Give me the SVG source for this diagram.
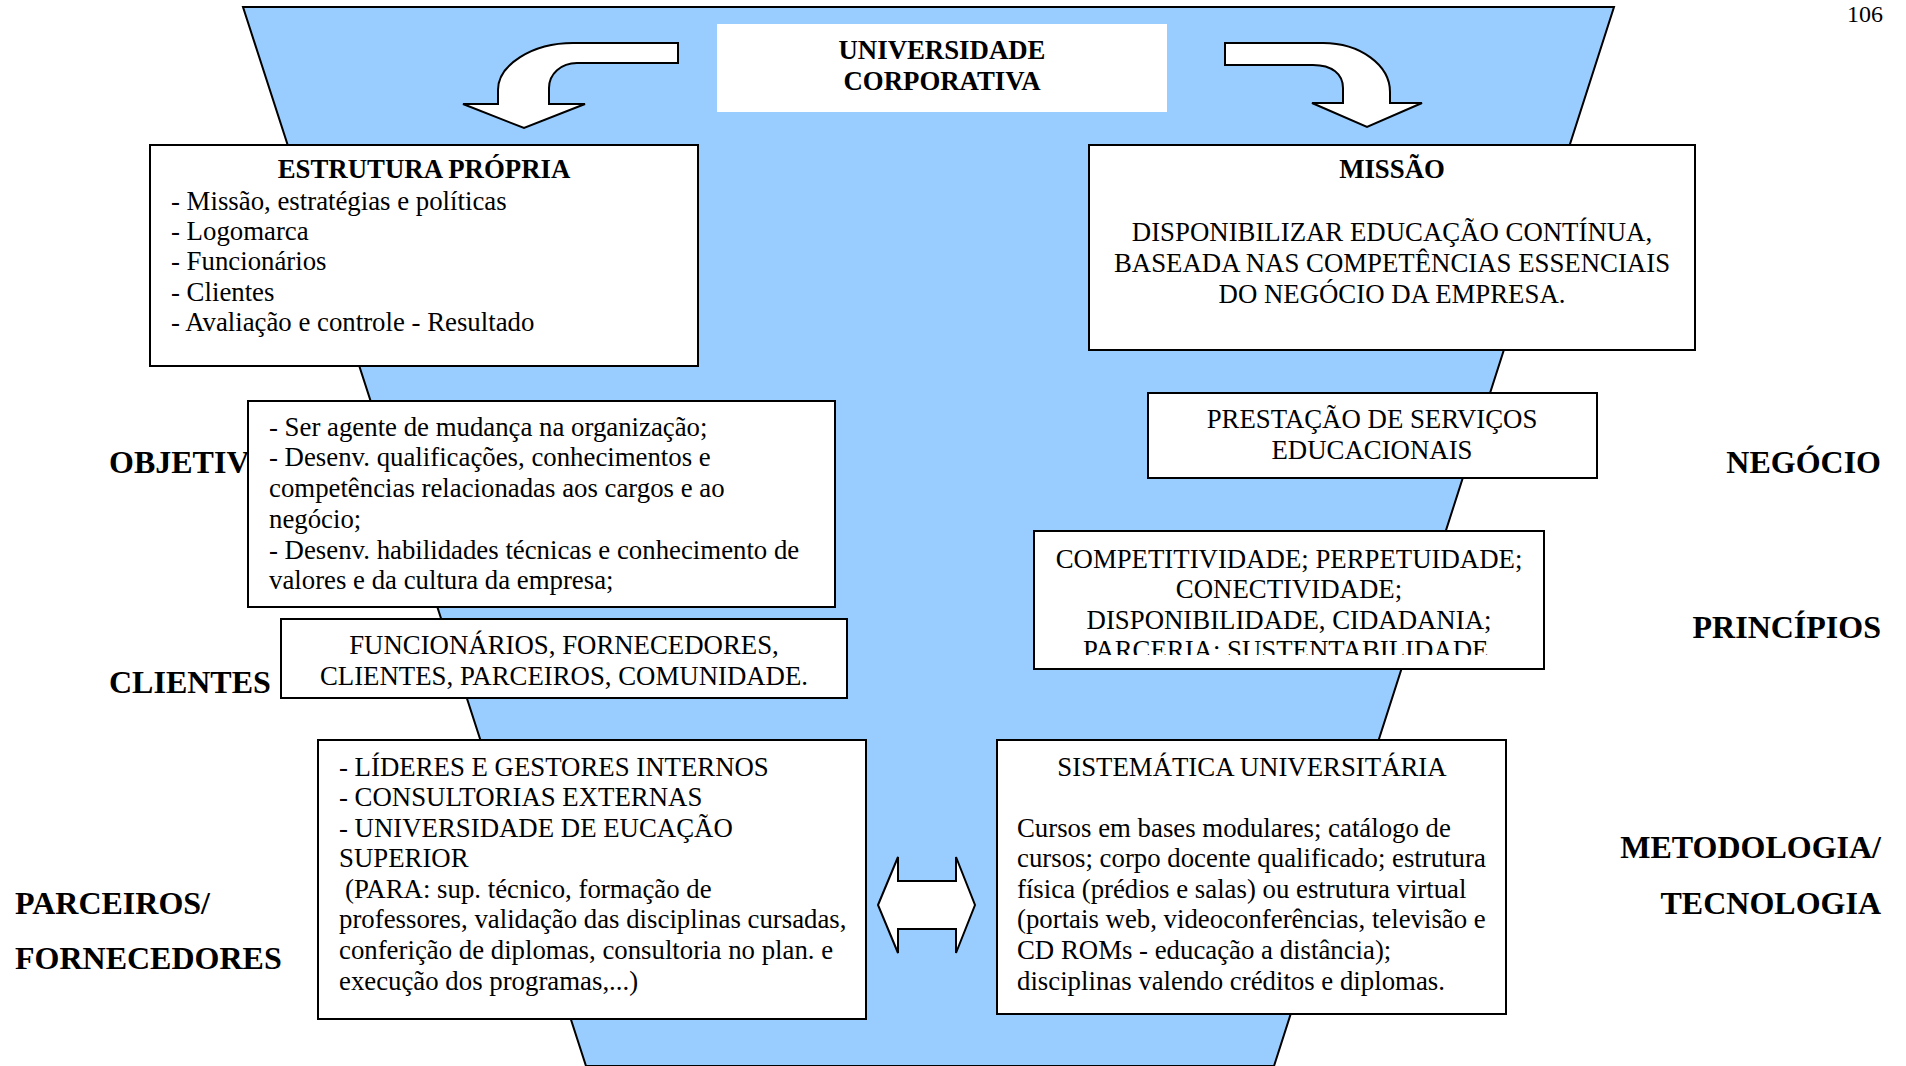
<svg xmlns="http://www.w3.org/2000/svg" width="1906" height="1066" viewBox="0 0 1906 1066">
<style>
.t{font-family:"Liberation Serif","Times New Roman",serif;font-size:26.8px;fill:#000}
.b{font-weight:bold}
.c{text-anchor:middle}
.lab{font-family:"Liberation Serif","Times New Roman",serif;font-size:32px;font-weight:bold;fill:#000}
.r{text-anchor:end}
.box{fill:#fff;stroke:#000;stroke-width:2}
.arr{fill:#fff;stroke:#000;stroke-width:2;stroke-linejoin:miter}
</style>
<defs>
<clipPath id="clipPrin"><rect x="1034" y="531" width="510" height="124"/></clipPath>
</defs>
<rect width="1906" height="1066" fill="#fff"/>
<polygon id="funnel" points="243,7 1614,7 1274,1066 586,1066" fill="#99CCFF" stroke="#000" stroke-width="2"/>
<text class="t r" x="1883" y="22" style="font-size:24px">106</text>

<g id="labels">
<text class="lab" x="109" y="473">OBJETIV</text>
<text class="lab" x="109" y="693">CLIENTES</text>
<text class="lab" x="15" y="914">PARCEIROS/</text>
<text class="lab" x="15" y="969">FORNECEDORES</text>
<text class="lab r" x="1881" y="473">NEGÓCIO</text>
<text class="lab r" x="1881" y="638">PRINCÍPIOS</text>
<text class="lab r" x="1881" y="858">METODOLOGIA/</text>
<text class="lab r" x="1881" y="914">TECNOLOGIA</text>
</g>

<g id="universidade">
<rect x="717" y="24" width="450" height="88" fill="#fff"/>
<text class="t b c" x="942" y="59">UNIVERSIDADE</text>
<text class="t b c" x="942" y="90">CORPORATIVA</text>
</g>

<g id="connectors">
<path class="arr" d="M678,43 L573,43 C532,43 498,65 498,90 L498,104 L463,104 L524,128 L585,104 L549,104 L549,88 C549,74 561,63 577,63 L678,63 Z"/>
<path class="arr" d="M1225,43 L1323,43 C1360,43 1390,65 1390,92 L1390,103 L1422,103 L1367,127 L1312,103 L1343,103 L1343,88 C1343,74 1332,65 1313,65 L1225,65 Z"/>
<path class="arr" d="M878,905 L898,857 L898,881 L956,881 L956,857 L975,905 L956,953 L956,929 L898,929 L898,953 Z"/>
</g>

<g id="estrutura">
<rect class="box" x="150" y="145" width="548" height="221"/>
<text class="t b c" x="424" y="178">ESTRUTURA PRÓPRIA</text>
<text class="t" x="171" y="210">- Missão, estratégias e políticas</text>
<text class="t" x="171" y="240">- Logomarca</text>
<text class="t" x="171" y="270">- Funcionários</text>
<text class="t" x="171" y="301">- Clientes</text>
<text class="t" x="171" y="331">- Avaliação e controle - Resultado</text>
</g>

<g id="missao">
<rect class="box" x="1089" y="145" width="606" height="205"/>
<text class="t b c" x="1392" y="178">MISSÃO</text>
<text class="t c" x="1392" y="241">DISPONIBILIZAR EDUCAÇÃO CONTÍNUA,</text>
<text class="t c" x="1392" y="272">BASEADA NAS COMPETÊNCIAS ESSENCIAIS</text>
<text class="t c" x="1392" y="303">DO NEGÓCIO DA EMPRESA.</text>
</g>

<g id="objetivos">
<rect class="box" x="248" y="401" width="587" height="206"/>
<text class="t" x="269" y="436">- Ser agente de mudança na organização;</text>
<text class="t" x="269" y="466">- Desenv. qualificações, conhecimentos e</text>
<text class="t" x="269" y="497">competências relacionadas aos cargos e ao</text>
<text class="t" x="269" y="528">negócio;</text>
<text class="t" x="269" y="559">- Desenv. habilidades técnicas e conhecimento de</text>
<text class="t" x="269" y="589">valores e da cultura da empresa;</text>
</g>

<g id="clientes">
<rect class="box" x="281" y="619" width="566" height="79"/>
<text class="t c" x="564" y="654">FUNCIONÁRIOS, FORNECEDORES,</text>
<text class="t c" x="564" y="685">CLIENTES, PARCEIROS, COMUNIDADE.</text>
</g>

<g id="parceiros">
<rect class="box" x="318" y="740" width="548" height="279"/>
<text class="t" x="339" y="776">- LÍDERES E GESTORES INTERNOS</text>
<text class="t" x="339" y="806">- CONSULTORIAS EXTERNAS</text>
<text class="t" x="339" y="837">- UNIVERSIDADE DE EUCAÇÃO</text>
<text class="t" x="339" y="867">SUPERIOR</text>
<text class="t" x="345" y="898">(PARA: sup. técnico, formação de</text>
<text class="t" x="339" y="928">professores, validação das disciplinas cursadas,</text>
<text class="t" x="339" y="959">conferição de diplomas, consultoria no plan. e</text>
<text class="t" x="339" y="990">execução dos programas,...)</text>
</g>

<g id="negocio">
<rect class="box" x="1148" y="393" width="449" height="85"/>
<text class="t c" x="1372" y="428">PRESTAÇÃO DE SERVIÇOS</text>
<text class="t c" x="1372" y="459">EDUCACIONAIS</text>
</g>

<g id="principios">
<rect class="box" x="1034" y="531" width="510" height="138"/>
<g clip-path="url(#clipPrin)">
<text class="t c" x="1289" y="568">COMPETITIVIDADE; PERPETUIDADE;</text>
<text class="t c" x="1289" y="598">CONECTIVIDADE;</text>
<text class="t c" x="1289" y="629">DISPONIBILIDADE, CIDADANIA;</text>
<text class="t c" x="1289" y="659">PARCERIA; SUSTENTABILIDADE.</text>
</g>
</g>

<g id="metodologia">
<rect class="box" x="997" y="740" width="509" height="274"/>
<text class="t c" x="1252" y="776">SISTEMÁTICA UNIVERSITÁRIA</text>
<text class="t" x="1017" y="837">Cursos em bases modulares; catálogo de</text>
<text class="t" x="1017" y="867">cursos; corpo docente qualificado; estrutura</text>
<text class="t" x="1017" y="898">física (prédios e salas) ou estrutura virtual</text>
<text class="t" x="1017" y="928">(portais web, videoconferências, televisão e</text>
<text class="t" x="1017" y="959">CD ROMs - educação a distância);</text>
<text class="t" x="1017" y="990">disciplinas valendo créditos e diplomas.</text>
</g>
</svg>
